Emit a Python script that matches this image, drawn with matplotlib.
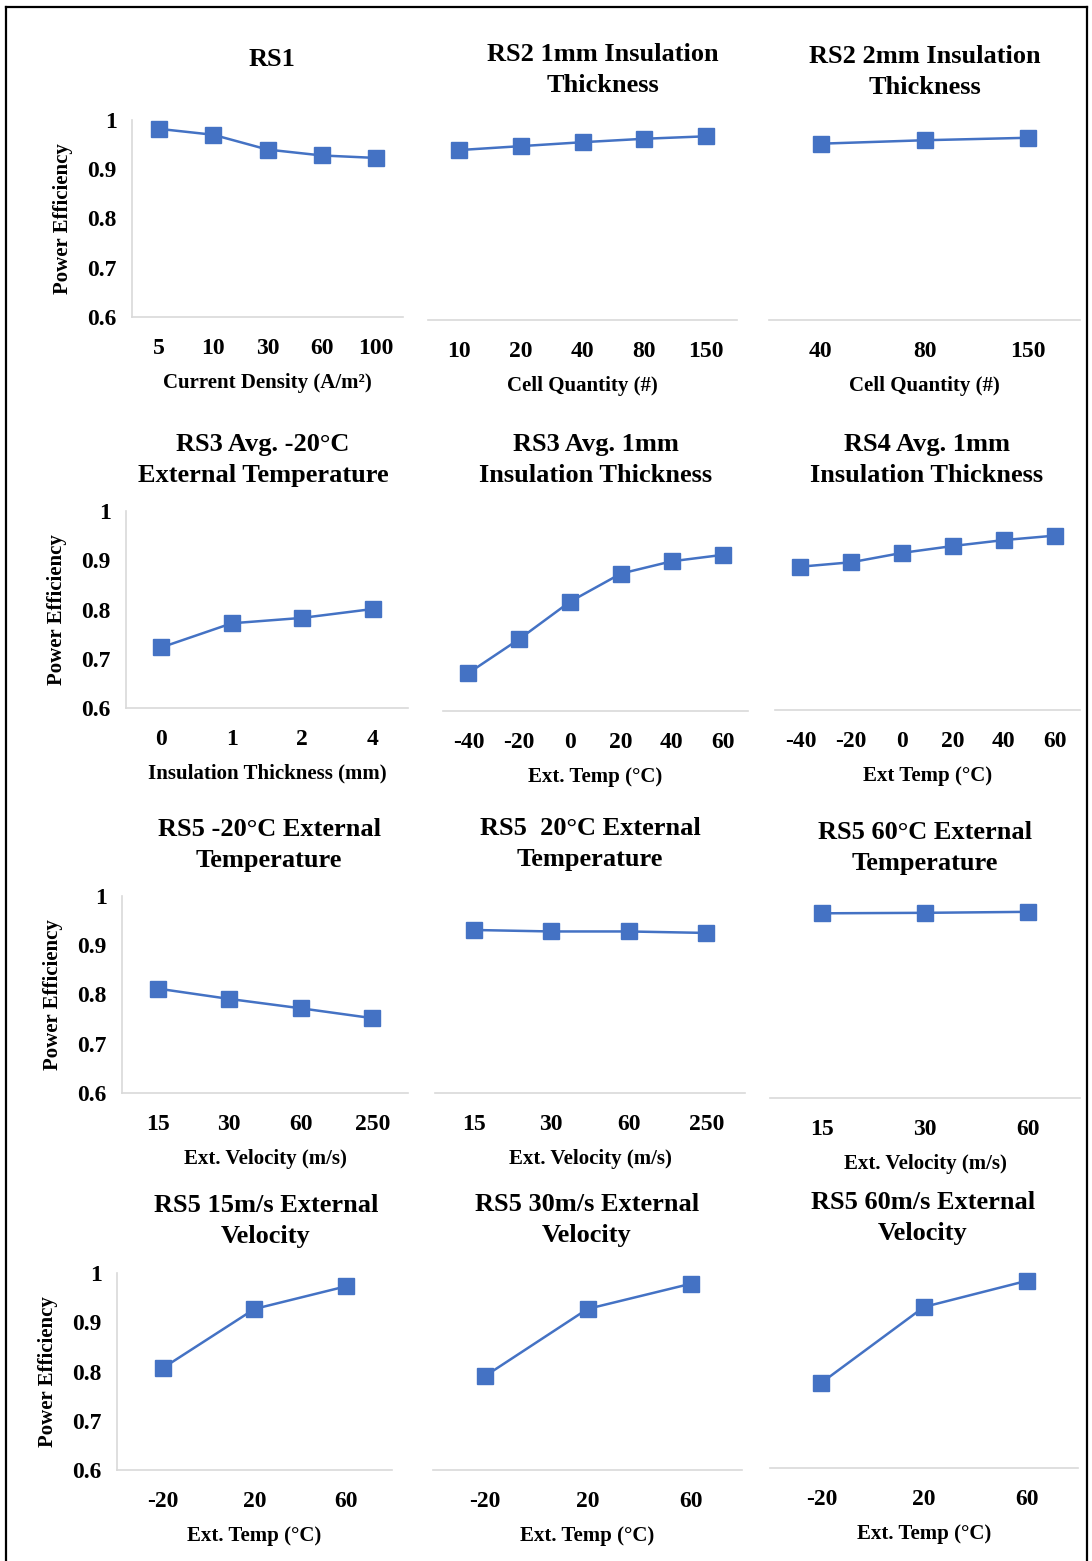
import matplotlib
matplotlib.use("Agg")
from matplotlib import pyplot as plt
from matplotlib.lines import Line2D

plt.rcParams['font.family'] = ['Liberation Serif', 'DejaVu Serif']
plt.rcParams['font.weight'] = 'bold'

# data
rs1_x = ['5', '10', '30', '60', '100']
rs1_y = [0.982, 0.970, 0.940, 0.928, 0.923]

rs2_1mm_x = ['10', '20', '40', '80', '150']
rs2_1mm_y = [0.945, 0.953, 0.961, 0.968, 0.973]

rs2_2mm_x = ['40', '80', '150']
rs2_2mm_y = [0.958, 0.965, 0.970]

rs3_m20_x = ['0', '1', '2', '4']
rs3_m20_y = [0.723, 0.772, 0.783, 0.801]

rs3_1mm_x = ['-40', '-20', '0', '20', '40', '60']
rs3_1mm_y = [0.677, 0.746, 0.822, 0.879, 0.904, 0.917]

rs4_1mm_x = ['-40', '-20', '0', '20', '40', '60']
rs4_1mm_y = [0.891, 0.900, 0.919, 0.933, 0.945, 0.954]

rs5_m20_x = ['15', '30', '60', '250']
rs5_m20_y = [0.812, 0.791, 0.772, 0.752]

rs5_20_x = ['15', '30', '60', '250']
rs5_20_y = [0.931, 0.928, 0.928, 0.925]

rs5_60_x = ['15', '30', '60']
rs5_60_y = [0.975, 0.976, 0.978]

rs5_15ms_x = ['-20', '20', '60']
rs5_15ms_y = [0.807, 0.927, 0.973]

rs5_30ms_x = ['-20', '20', '60']
rs5_30ms_y = [0.790, 0.927, 0.978]

rs5_60ms_x = ['-20', '20', '60']
rs5_60ms_y = [0.773, 0.927, 0.980]

y_ticks = [0.6, 0.7, 0.8, 0.9, 1.0]
y_tick_labels = ['0.6', '0.7', '0.8', '0.9', '1']

W, H = 1092, 1561
fig = plt.figure(figsize=(W / 100, H / 100), dpi=100)
fig.patch.set_facecolor('white')

# (title, xlabel, cats, vals, left px, right px, bottom px, title centre x, title y top line, left column?)
panels = [
    ("RS1", "Current Density (A/m²)", rs1_x, rs1_y, 132, 403, 317, 272, 58, True),
    ("RS2 1mm Insulation\nThickness", "Cell Quantity (#)", rs2_1mm_x, rs2_1mm_y, 428, 737, 320, 603, 53, False),
    ("RS2 2mm Insulation\nThickness", "Cell Quantity (#)", rs2_2mm_x, rs2_2mm_y, 769, 1080, 320, 925, 55, False),
    ("RS3 Avg. -20°C\nExternal Temperature", "Insulation Thickness (mm)", rs3_m20_x, rs3_m20_y, 126, 408, 708, 263, 443, True),
    ("RS3 Avg. 1mm\nInsulation Thickness", "Ext. Temp (°C)", rs3_1mm_x, rs3_1mm_y, 443, 748, 711, 596, 443, False),
    ("RS4 Avg. 1mm\nInsulation Thickness", "Ext Temp (°C)", rs4_1mm_x, rs4_1mm_y, 775, 1080, 710, 927, 443, False),
    ("RS5 -20°C External\nTemperature", "Ext. Velocity (m/s)", rs5_m20_x, rs5_m20_y, 122, 408, 1093, 269, 828, True),
    ("RS5  20°C External\nTemperature", "Ext. Velocity (m/s)", rs5_20_x, rs5_20_y, 435, 745, 1093, 590, 827, False),
    ("RS5 60°C External\nTemperature", "Ext. Velocity (m/s)", rs5_60_x, rs5_60_y, 770, 1080, 1098, 925, 831, False),
    ("RS5 15m/s External\nVelocity", "Ext. Temp (°C)", rs5_15ms_x, rs5_15ms_y, 117, 392, 1470, 266, 1204, True),
    ("RS5 30m/s External\nVelocity", "Ext. Temp (°C)", rs5_30ms_x, rs5_30ms_y, 433, 742, 1470, 587, 1203, False),
    ("RS5 60m/s External\nVelocity", "Ext. Temp (°C)", rs5_60ms_x, rs5_60ms_y, 770, 1078, 1468, 923, 1201, False),
]

blue = '#4472C4'
grey = '#D9D9D9'
ax_h = 197

for title, xlabel, cats, vals, l, r, b, tx, ty, left_col in panels:
    ax = fig.add_axes([l / W, 1 - b / H, (r - l) / W, ax_h / H])
    xs = list(range(len(cats)))
    ax.plot(xs, vals, color=blue, lw=1.8, marker='s', markersize=11.5,
            markerfacecolor=blue, markeredgecolor=blue)
    ax.set_xlim(-0.5, len(cats) - 0.5)
    ax.set_ylim(0.6, 1.0)
    ax.set_xticks(xs)
    ax.set_xticklabels(cats, fontsize=17, fontweight='bold')
    ax.tick_params(axis='x', length=0, pad=15)
    for s in ['top', 'right']:
        ax.spines[s].set_visible(False)
    ax.spines['bottom'].set_color(grey)
    ax.spines['bottom'].set_linewidth(1.2)
    if left_col:
        ax.spines['left'].set_color(grey)
        ax.spines['left'].set_linewidth(1.2)
        ax.set_yticks(y_ticks)
        ax.set_yticklabels(y_tick_labels, fontsize=17, fontweight='bold')
        ax.tick_params(axis='y', length=0, pad=11)
        ax.set_ylabel("Power Efficiency", fontsize=15, fontweight='bold', labelpad=10)
    else:
        ax.spines['left'].set_visible(False)
        ax.set_yticks([])
    ax.set_xlabel(xlabel, fontsize=15, fontweight='bold', labelpad=10)
    ax.set_facecolor('none')
    fig.text(tx / W, 1 - (ty - 10) / H, title, ha='center', va='top',
             fontsize=19, fontweight='bold', linespacing=1.45)

# outer frame
fig.add_artist(Line2D([6 / W, 6 / W], [0, 1 - 7 / H], color='black', lw=1.6))
fig.add_artist(Line2D([6 / W, 1087 / W], [1 - 7 / H, 1 - 7 / H], color='black', lw=1.6))
fig.add_artist(Line2D([1087 / W, 1087 / W], [0, 1 - 7 / H], color='black', lw=1.6))

fig.savefig('out.png', dpi=100)
